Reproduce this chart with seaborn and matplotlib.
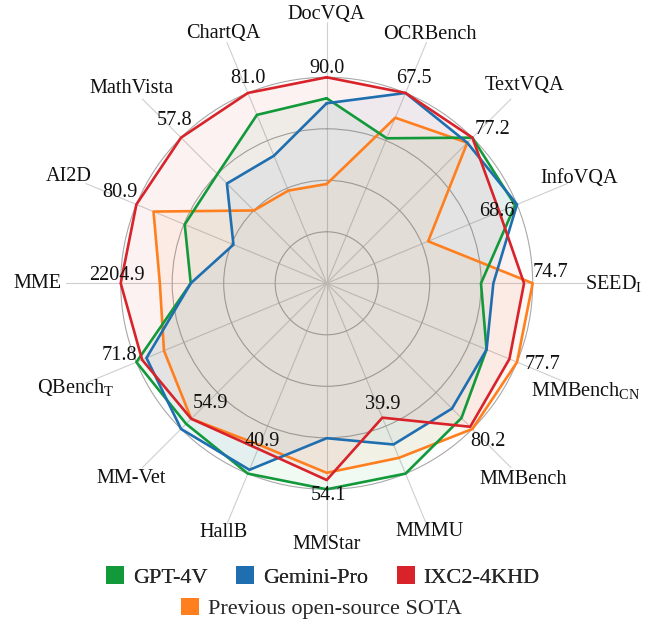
import numpy as np
import pandas as pd
import matplotlib
matplotlib.use("Agg")
import matplotlib.pyplot as plt
from matplotlib.patches import Patch
import seaborn as sns

# ---------------- data ----------------
categories = ["DocVQA", "OCRBench", "TextVQA", "InfoVQA", r"SEED$_{\mathrm{I}}$",
              r"MMBench$_{\mathrm{CN}}$", "MMBench", "MMMU", "MMStar", "HallB",
              "MM-Vet", r"QBench$_{\mathrm{T}}$", "MME", "AI2D", "MathVista", "ChartQA"]

# normalised scores (fraction of outer ring) per benchmark
gpt4v  = [0.898, 0.762, 1.000, 0.990, 0.749, 0.840, 0.925, 1.000,
          1.000, 1.000, 0.965, 1.000, 0.660, 0.746, 0.750, 0.885]
gemini = [0.874, 1.000, 0.965, 1.000, 0.809, 0.840, 0.860, 0.847,
          0.752, 0.980, 1.000, 0.947, 0.660, 0.490, 0.685, 0.670]
ixc    = [1.000, 1.000, 1.000, 0.907, 0.958, 0.960, 0.985, 0.706,
          0.955, 0.870, 0.930, 0.970, 1.000, 1.000, 1.000, 1.000]
sota   = [0.482, 0.870, 0.965, 0.533, 1.000, 1.000, 1.000, 0.917,
          0.920, 0.850, 0.930, 0.855, 0.810, 0.910, 0.500, 0.487]

# IXC2-4KHD raw scores shown as value labels
ixc_scores = [90.0, 67.5, 77.2, 68.6, 74.7, 77.7, 80.2, 39.9,
              54.1, 40.9, 54.9, 71.8, 2204.9, 80.9, 57.8, 81.0]

models = ["GPT-4V", "Gemini-Pro", "IXC2-4KHD", "Previous open-source SOTA"]
series = {"GPT-4V": gpt4v, "Gemini-Pro": gemini, "IXC2-4KHD": ixc,
          "Previous open-source SOTA": sota}

# ---------------- style / layout ----------------
colors = {"GPT-4V": "#12993a", "Gemini-Pro": "#1f6fb0",
          "IXC2-4KHD": "#d8232a", "Previous open-source SOTA": "#ff7f1e"}
draw_order = ["Previous open-source SOTA", "GPT-4V", "Gemini-Pro", "IXC2-4KHD"]

# text placement of value labels: (theta in degrees, radius)
value_label_pos = [(0.2, 1.043), (23.1, 1.081), (47.2, 1.098), (67.1, 0.897),
                   (87.2, 1.089), (110.5, 1.119), (134.5, 1.094), (155.2, 0.646),
                   (179.6, 1.028), (202.1, 0.83), (224.0, 0.81), (250.9, 1.066),
                   (272.0, 1.02), (293.7, 1.096), (316.8, 1.082), (339.1, 1.066)]
# category label centre distance from the chart centre (in outer-ring units)
cat_label_r = [1.305, 1.307, 1.355, 1.328, 1.393, 1.362, 1.347, 1.303,
               1.268, 1.309, 1.342, 1.322, 1.404, 1.358, 1.339, 1.313]

sns.set_theme(style="white")
plt.rcParams["font.family"] = ["Liberation Serif", "DejaVu Serif"]
plt.rcParams["mathtext.fontset"] = "custom"
plt.rcParams["mathtext.rm"] = "Liberation Serif"
plt.rcParams["mathtext.it"] = "Liberation Serif:italic"

W, H, DPI = 652, 621, 100
fig = plt.figure(figsize=(W / DPI, H / DPI), dpi=DPI)
fig.patch.set_facecolor("white")

cx, cy = 326.7 / W, 1 - 283.3 / H
rad_px = 261.0
ax = fig.add_axes([cx - rad_px / W, cy - rad_px / H, 2 * rad_px / W, 2 * rad_px / H],
                  projection="polar")
ax.set_facecolor("white")
ax.set_theta_offset(np.pi / 2)
ax.set_theta_direction(-1)
RMAX = 1.267
ax.set_ylim(0, RMAX)

n = len(categories)
angles = np.arange(n) * 2 * np.pi / n

ax.set_xticks(angles)
ax.set_xticklabels([])
ax.set_yticks([0.25, 0.5, 0.75, 1.0])
ax.set_yticklabels([])
ax.spines["polar"].set_visible(False)
ax.xaxis.grid(True, color="#cfcfcf", linewidth=0.8)
ax.yaxis.grid(True, color="#a8a8a8", linewidth=0.8)
ax.set_axisbelow(True)
ax.tick_params(length=0)

# long-form data, loop closed
rows = []
for m in models:
    vals = series[m]
    for a, v in zip(list(angles) + [2 * np.pi], list(vals) + [vals[0]]):
        rows.append({"model": m, "theta": a, "r": v})
df = pd.DataFrame(rows)

for i, m in enumerate(draw_order):
    sub = df[df["model"] == m]
    ax.fill(sub["theta"], sub["r"], color=colors[m], alpha=0.06, zorder=2 + i, lw=0)
    sns.lineplot(data=sub, x="theta", y="r", color=colors[m], sort=False,
                 estimator=None, linewidth=1.9, ax=ax, legend=False, zorder=6 + i)
ax.set_xlabel("")
ax.set_ylabel("")
ax.set_ylim(0, RMAX)

FS = 14.6
# value labels
for (th, r), v in zip(value_label_pos, ixc_scores):
    ax.text(np.deg2rad(th), r, f"{v:.1f}", ha="center", va="center",
            fontsize=FS, color="#111111", zorder=20)

# category labels
for a, c, r in zip(angles, categories, cat_label_r):
    ax.text(a, r, c, ha="center", va="center", fontsize=FS, color="#111111",
            clip_on=False, zorder=20)

# legend: two centred rows
def handles(names):
    return [Patch(facecolor=colors[m], edgecolor="none", label=m) for m in names]

leg_kw = dict(frameon=False, fontsize=16, handlelength=0.82, handleheight=0.82,
              handletextpad=0.38, columnspacing=1.3, borderaxespad=0, borderpad=0)
leg1 = fig.legend(handles=handles(models[:3]), loc="center", ncol=3,
                  bbox_to_anchor=(0.495, 1 - 577 / H), **leg_kw)
fig.add_artist(leg1)
leg2 = fig.legend(handles=handles(models[3:]), loc="center", ncol=1,
                  bbox_to_anchor=(0.493, 1 - 608.5 / H), **leg_kw)

fig.savefig("out.png", dpi=DPI, facecolor="white")
